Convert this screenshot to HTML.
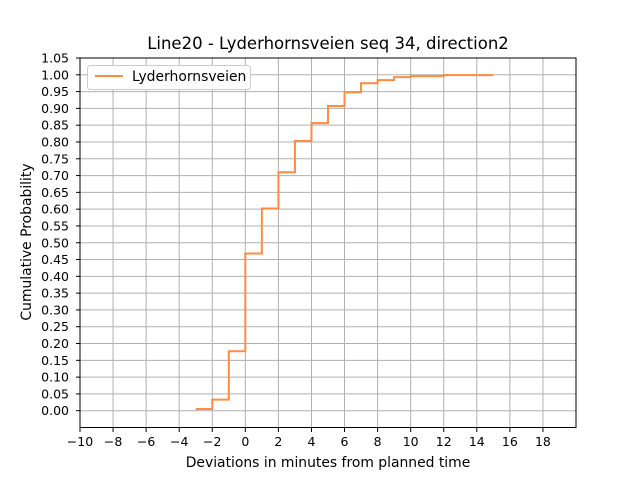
<!DOCTYPE html>
<html><head><meta charset="utf-8"><style>
body{margin:0;background:#fff;}
svg{display:block;font-family:"DejaVu Sans","Liberation Sans",sans-serif;}
</style></head><body>
<svg id="chart" width="640" height="480">
<rect width="640" height="480" fill="#fff"/>
<text x="328" y="49" text-anchor="middle" font-size="16.5">Line20 - Lyderhornsveien seq 34, direction2</text>
<g id="grid"></g>
<g id="axes"></g>
<polyline id="line" fill="none" stroke="#ff8c42" stroke-width="2"/>
<rect x="80" y="58" width="496" height="369.5" fill="none" stroke="#000" stroke-width="1"/>
<g>
<rect x="87.5" y="65.5" width="163" height="24" rx="3" fill="#fff" stroke="#ccc"/>
<line x1="95" y1="76" x2="123" y2="76" stroke="#ff8c42" stroke-width="2"/>
<text x="132" y="81" font-size="13.9">Lyderhornsveien</text>
</g>
<text x="328" y="467" text-anchor="middle" font-size="13.9">Deviations in minutes from planned time</text>
<text transform="translate(31,242) rotate(-90)" text-anchor="middle" font-size="13.9">Cumulative Probability</text>
</svg>
<script>
const xs=[-3,-2,-1,0,1,2,3,4,5,6,7,8,9,10,12];
const ys=[0.005,0.033,0.177,0.468,0.602,0.71,0.803,0.856,0.907,0.948,0.975,0.984,0.993,0.996,0.999];
const xEnd=15;
const xTicks=[-10,-8,-6,-4,-2,0,2,4,6,8,10,12,14,16,18];
const yTicks=[];for(let i=0;i<=21;i++)yTicks.push(i*0.05);
const X=v=>80+(v+10)*(496/30);
const Y=v=>58+(1.05-v)*(369.5/1.1);
const ns="http://www.w3.org/2000/svg";
const g=document.getElementById('grid'),a=document.getElementById('axes');
function mk(tag,attrs,p){const e=document.createElementNS(ns,tag);for(const k in attrs)e.setAttribute(k,attrs[k]);p.appendChild(e);return e;}
xTicks.forEach(t=>{
 const x=X(t);
 const l=mk('line',{x1:x,x2:x,y1:58,y2:427.5,stroke:'#b0b0b0','stroke-width':1},g);
 
 
 mk('line',{x1:x,x2:x,y1:427.5,y2:432,stroke:'#000'},a);
 const tx=mk('text',{x:x,y:446,'text-anchor':'middle','font-size':'12.5'},a);
 tx.textContent=(t<0?'\u2212'+(-t):t);
 
 
});
yTicks.forEach(t=>{
 const y=Y(t);
 const l=mk('line',{x1:80,x2:576,y1:y,y2:y,stroke:'#b0b0b0','stroke-width':1},g);
 
 
 mk('line',{x1:76,x2:80,y1:y,y2:y,stroke:'#000'},a);
 const tx=mk('text',{x:69,y:y+4.5,'text-anchor':'end','font-size':'12.5'},a);
 tx.textContent=t.toFixed(2);
 
 
});
const pts=[];
for(let i=0;i<xs.length;i++){
 const nx=i+1<xs.length?xs[i+1]:xEnd;
 pts.push(X(xs[i])+','+Y(ys[i]));
 pts.push(X(nx)+','+Y(ys[i]));
 if(i+1<xs.length)pts.push(X(nx)+','+Y(ys[i+1]));
}
document.getElementById('line').setAttribute('points',pts.join(' '));
</script>
</body></html>
